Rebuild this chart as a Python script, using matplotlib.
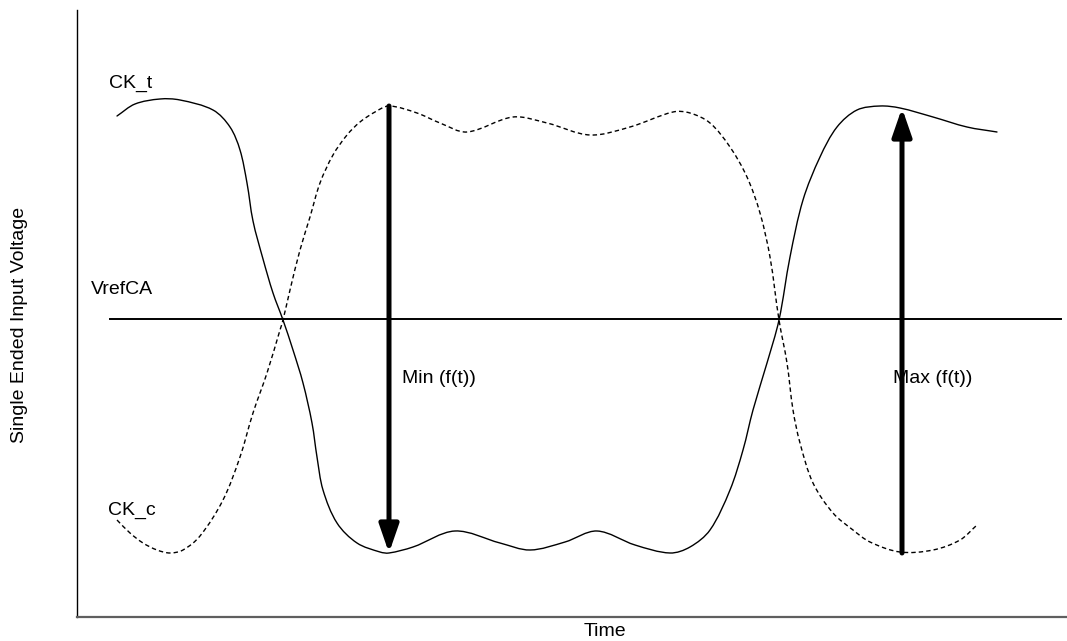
import numpy as np
import matplotlib
matplotlib.use("Agg")
import matplotlib.pyplot as plt
from matplotlib.path import Path
from matplotlib.patches import PathPatch

# ---- data (time, voltage) in arbitrary diagram units ----
ck_t_time = [40, 58, 83, 103, 136, 153, 163, 170, 176, 186, 196, 206, 216, 226, 235, 240, 246, 260,
             280, 303, 312, 336, 378, 423, 453, 488, 520, 558, 593, 613, 633, 653, 666, 676, 690,
             702, 713, 726, 743, 760, 780, 803, 823, 856, 890, 920]
ck_t_volt = [501, 513, 518, 517, 507, 490, 467, 434, 396, 358, 324, 297, 267, 234, 194, 160, 127, 94,
             74, 65, 64, 70, 86, 74, 67, 75, 86, 72, 64, 70, 87, 127, 167, 207, 254,
             297, 360, 417, 460, 490, 507, 511, 509, 500, 490, 485]

ck_c_time = [40, 53, 66, 80, 93, 106, 123, 146, 163, 176, 190, 203, 206, 213, 223, 233, 243, 256,
             270, 283, 298, 312, 340, 363, 390, 436, 470, 513, 553, 596, 613, 633, 653, 670, 683,
             693, 702, 710, 716, 723, 736, 756, 776, 793, 823, 856, 883, 900]
ck_c_volt = [97, 84, 74, 67, 64, 67, 81, 117, 160, 204, 244, 287, 297, 327, 367, 400, 434, 462,
             482, 495, 505, 511, 504, 494, 485, 500, 494, 482, 490, 505, 504, 494, 470, 440, 404,
             360, 297, 254, 207, 174, 134, 104, 87, 75, 65, 67, 77, 92]

vref_level = 298
vref_span = (33, 984)

min_arrow_t, min_arrow_from, min_arrow_to = 312, 511, 64
max_arrow_t, max_arrow_from, max_arrow_to = 825, 64, 509

W, H = 1067, 641
fig = plt.figure(figsize=(W / 100, H / 100), dpi=100)
ax = fig.add_axes([77 / W, 24 / H, 990 / W, 607 / H])
ax.set_xlim(0, 990)
ax.set_ylim(0, 607)
ax.set_xticks([])
ax.set_yticks([])
for s in ("top", "right"):
    ax.spines[s].set_visible(False)
ax.spines["left"].set_color("black")
ax.spines["left"].set_linewidth(1.0)
ax.spines["bottom"].set_color("#5f5f5f")
ax.spines["bottom"].set_linewidth(1.6)

FONT = "Liberation Sans"


def smooth_path(xs, ys):
    """Bezier path through the given points (chord-length scaled Hermite tangents)."""
    p = np.column_stack([xs, ys]).astype(float)
    n = len(p)
    d = np.linalg.norm(np.diff(p, axis=0), axis=1)
    m = np.zeros_like(p)
    for i in range(n):
        if i == 0:
            m[i] = (p[1] - p[0]) / d[0]
        elif i == n - 1:
            m[i] = (p[-1] - p[-2]) / d[-1]
        else:
            m[i] = (p[i + 1] - p[i - 1]) / (d[i - 1] + d[i])
    verts = [p[0]]
    codes = [Path.MOVETO]
    for i in range(n - 1):
        c1 = p[i] + m[i] * d[i] / 3.0
        c2 = p[i + 1] - m[i + 1] * d[i] / 3.0
        verts += [c1, c2, p[i + 1]]
        codes += [Path.CURVE4] * 3
    return Path(verts, codes)


ax.add_patch(PathPatch(smooth_path(ck_t_time, ck_t_volt), fill=False, edgecolor="black",
                       linewidth=1.0, capstyle="round"))
ax.add_patch(PathPatch(smooth_path(ck_c_time, ck_c_volt), fill=False, edgecolor="black",
                       linewidth=1.0, linestyle=(0, (3.2, 2.2))))

ax.plot(vref_span, [vref_level, vref_level], color="black", linewidth=1.4)

arrow_props = dict(arrowstyle="-|>,head_length=1.3,head_width=0.45", color="black",
                   linewidth=3.6, shrinkA=0, shrinkB=0, mutation_scale=13)
ax.annotate("", xy=(min_arrow_t, min_arrow_to), xytext=(min_arrow_t, min_arrow_from),
            arrowprops=arrow_props)
ax.annotate("", xy=(max_arrow_t, max_arrow_to), xytext=(max_arrow_t, max_arrow_from),
            arrowprops=arrow_props)

fs = 14
ax.text(32, 529, "CK_t", fontsize=fs, family=FONT, ha="left", va="baseline")
ax.text(31, 102, "CK_c", fontsize=fs, family=FONT, ha="left", va="baseline")
ax.text(14, 323, "VrefCA", fontsize=fs, family=FONT, ha="left", va="baseline", clip_on=False)
ax.text(325, 234, "Min (f(t))", fontsize=fs, family=FONT, ha="left", va="baseline")
ax.text(816, 234, "Max (f(t))", fontsize=fs, family=FONT, ha="left", va="baseline")

fig.text(605 / W, 1 - 631 / H, "Time", fontsize=fs, family=FONT, ha="center", va="center")
fig.text(20 / W, 1 - 325 / H, "Single Ended Input Voltage", fontsize=fs, family=FONT,
         ha="center", va="center", rotation=90)

fig.savefig("out.png", dpi=100)
